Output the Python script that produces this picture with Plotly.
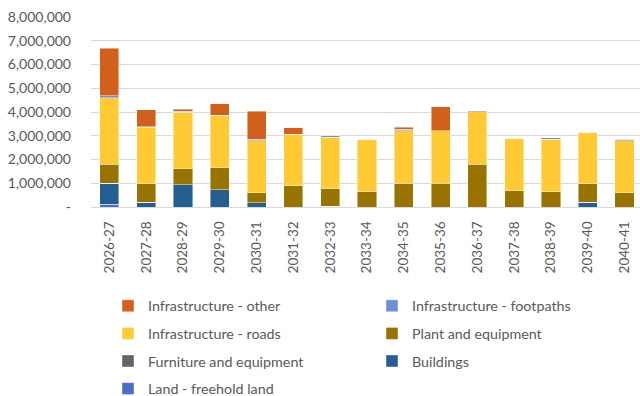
import plotly.graph_objects as go

years = ["2026-27", "2027-28", "2028-29", "2029-30", "2030-31", "2031-32", "2032-33",
         "2033-34", "2034-35", "2035-36", "2036-37", "2037-38", "2038-39", "2039-40", "2040-41"]

land_freehold = [110000, 0, 0, 0, 0, 0, 30000, 0, 0, 0, 0, 0, 0, 0, 0]
buildings = [900000, 200000, 930000, 730000, 180000, 0, 0, 0, 0, 0, 0, 0, 0, 210000, 0]
furniture = [0] * 15
plant = [790000, 770000, 690000, 920000, 410000, 890000, 730000, 650000, 1010000,
         1010000, 1800000, 680000, 650000, 760000, 610000]
roads = [2810000, 2380000, 2380000, 2210000, 2210000, 2180000, 2180000, 2200000, 2200000,
         2200000, 2210000, 2200000, 2210000, 2180000, 2180000]
footpaths = [70000, 30000, 30000, 0, 60000, 0, 90000, 0, 60000, 0, 50000, 0, 50000, 0, 70000]
infra_other = [2010000, 710000, 80000, 490000, 1180000, 270000, 0, 0, 80000, 1010000,
               0, 0, 0, 0, 0]

# (name, values, colour, legend column, rank) from the bottom of the stack upwards
series = [
    ("Land - freehold land", land_freehold, "#4472C4", "legend", 7),
    ("Buildings", buildings, "#255E91", "legend2", 6),
    ("Furniture and equipment", furniture, "#636363", "legend", 5),
    ("Plant and equipment", plant, "#997300", "legend2", 4),
    ("Infrastructure - roads", roads, "#FFCA33", "legend", 3),
    ("Infrastructure - footpaths", footpaths, "#6F8FD0", "legend2", 2),
    ("Infrastructure - other", infra_other, "#D2601A", "legend", 1),
]

fig = go.Figure()
for name, vals, color, leg, rank in series:
    fig.add_trace(go.Bar(
        x=years, y=vals, name=name, legend=leg, legendgroup=name, legendrank=rank,
        marker=dict(color=color, line=dict(color="rgba(255,255,255,0.55)", width=0.8)),
        width=0.52,
    ))

font_family = "Lato, 'Noto Sans', sans-serif"
grey = "#595959"

legend_common = dict(
    orientation="v", traceorder="grouped", tracegroupgap=6,
    xref="container", yref="container", xanchor="left", yanchor="top",
    bgcolor="rgba(0,0,0,0)", itemclick=False, itemdoubleclick=False,
    font=dict(family=font_family, size=14.3, color=grey),
)

fig.update_layout(
    width=640, height=396,
    margin=dict(l=91, r=0, t=17, b=189, autoexpand=False),
    barmode="stack",
    paper_bgcolor="white", plot_bgcolor="white",
    font=dict(family=font_family, color=grey),
    legend=dict(legend_common, x=108 / 640, y=1 - 290 / 396),
    legend2=dict(legend_common, x=372 / 640, y=1 - 290 / 396),
    xaxis=dict(
        type="category", range=[-0.5, 14.42], tickangle=-90,
        tickfont=dict(size=13.5, color=grey), ticklabelstandoff=8,
        showgrid=False, showline=True, linecolor="#D9D9D9", linewidth=1, ticks="",
    ),
    yaxis=dict(
        range=[0, 8000000], tickvals=[0, 1e6, 2e6, 3e6, 4e6, 5e6, 6e6, 7e6, 8e6],
        ticktext=["-", "1,000,000", "2,000,000", "3,000,000", "4,000,000",
                  "5,000,000", "6,000,000", "7,000,000", "8,000,000"],
        tickfont=dict(size=14, color=grey), ticklabelstandoff=19,
        showgrid=True, gridcolor="#D9D9D9", gridwidth=1, zeroline=False, ticks="",
    ),
)

fig.write_html("out.html")
